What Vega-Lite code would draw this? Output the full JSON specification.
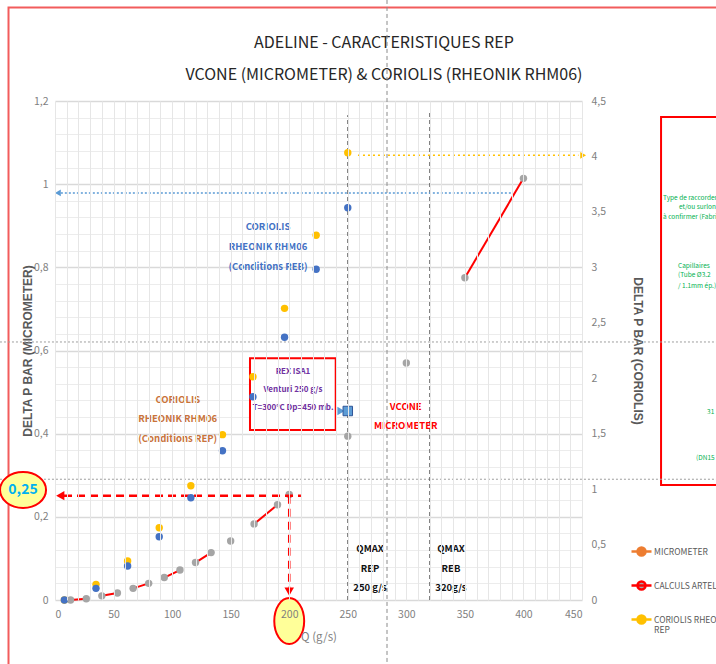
{
  "$schema": "https://vega.github.io/schema/vega-lite/v6.json",
  "width": 527,
  "height": 499,
  "autosize": {"type": "none"},
  "padding": {"left": 55, "top": 101, "right": 134, "bottom": 64},
  "background": "white",
  "config": {
    "view": {"stroke": null},
    "font": "Noto Sans CJK SC, Liberation Sans, sans-serif",
    "axis": {"labelFont": "Noto Sans CJK SC, Liberation Sans, sans-serif", "labelColor": "#7f7f7f", "labelFontSize": 10.5, "tickSize": 0, "domain": false, "titleFont": "Liberation Sans", "titleColor": "#595959"}
  },
  "encoding": {
    "x": {
      "field": "q", "type": "quantitative",
      "scale": {"domain": [0, 450], "nice": false, "zero": false},
      "axis": {
        "title": "Q (g/s)",
        "titleFont": "Noto Sans CJK SC, Liberation Sans, sans-serif",
        "titleFontWeight": "normal",
        "titleFontSize": 11.5,
        "titleColor": "#7f7f7f",
        "titlePadding": 12,
        "labelPadding": 9,
        "values": [0,10,20,30,40,50,60,70,80,90,100,110,120,130,140,150,160,170,180,190,200,210,220,230,240,250,260,270,280,290,300,310,320,330,340,350,360,370,380,390,400,410,420,430,440,450],
        "labelExpr": "datum.value % 50 === 0 ? datum.label : ''",
        "gridColor": "#e6e6e6",
        "zindex": 1
      }
    }
  },
  "layer": [
    {
      "encoding": {
        "y": {
          "field": "v", "type": "quantitative",
          "scale": {"domain": [0, 1.2], "nice": false, "zero": false},
          "axis": {
            "title": "DELTA P BAR (MICROMETER)",
            "titleFontSize": 12,
            "titleFontWeight": "bold",
            "titlePadding": -1,
            "labelPadding": 7,
            "values": [0,0.04,0.08,0.12,0.16,0.2,0.24,0.28,0.32,0.36,0.4,0.44,0.48,0.52,0.56,0.6,0.64,0.68,0.72,0.76,0.8,0.84,0.88,0.92,0.96,1,1.04,1.08,1.12,1.16,1.2],
            "labelExpr": "abs(datum.value*5-round(datum.value*5))<0.001 ? replace(format(datum.value,'.1~f'),'.',',') : ''",
            "gridColor": {"condition": {"test": "abs(datum.value*5-round(datum.value*5))<0.001", "value": "#d9d9d9"}, "value": "#ececec"},
            "gridWidth": {"condition": {"test": "abs(datum.value*5-round(datum.value*5))<0.001", "value": 1.5}, "value": 1}
          }
        }
      },
      "layer": [
        {
          "data": {"values": [{"q": -39.7, "q2": 600, "v": -0.5, "v2": 1.4249}]},
          "mark": {"type": "rect", "fill": null, "stroke": "#f25c5c", "strokeWidth": 2},
          "encoding": {"x2": {"field": "q2"}, "y2": {"field": "v2"}}
        },
        {
          "data": {"values": [
            {"q": 280.9, "v": 1.3395, "t": "ADELINE - CARACTERISTIQUES REP"},
            {"q": 280.9, "v": 1.2625, "t": "VCONE (MICROMETER) & CORIOLIS (RHEONIK RHM06)"}
          ]},
          "mark": {"type": "text", "align": "center", "baseline": "middle", "fontSize": 16, "color": "#262626"},
          "encoding": {"text": {"field": "t"}}
        },
        {
          "data": {"values": [{"q": 517.5, "q2": 600, "v": 0.2766, "v2": 1.1616}]},
          "mark": {"type": "rect", "fill": null, "stroke": "#ff0000", "strokeWidth": 2},
          "encoding": {"x2": {"field": "q2"}, "y2": {"field": "v2"}}
        },
        {
          "data": {"values": [
            {"q": 519.2, "v": 0.9668, "t": "Type de raccordement"},
            {"q": 532.8, "v": 0.9451, "t": "et/ou surlongueur"},
            {"q": 519.2, "v": 0.9211, "t": "à confirmer (Fabricant)"},
            {"q": 532, "v": 0.8032, "t": "Capillaires"},
            {"q": 532, "v": 0.7816, "t": "(Tube Ø3.2"},
            {"q": 532, "v": 0.7551, "t": "/ 1.1mm ép.)"},
            {"q": 556.8, "v": 0.4521, "t": "31"},
            {"q": 547.4, "v": 0.3415, "t": "(DN15 S"}
          ]},
          "mark": {"type": "text", "align": "left", "baseline": "middle", "fontSize": 6.5, "color": "#00b050"},
          "encoding": {"text": {"field": "t"}}
        },
        {
          "data": {"values": [{"q": -47, "q2": 565, "v": 0.6205}, {"q": -47, "q2": 565, "v": 0.2904}]},
          "mark": {"type": "rule", "color": "#9e9e9e", "strokeWidth": 1, "strokeDash": [2, 2]},
          "encoding": {"x2": {"field": "q2"}}
        },
        {
          "data": {"values": [{"q": 283.5, "v": 1.443, "v2": -0.154}]},
          "mark": {"type": "rule", "color": "#8a8a8a", "strokeWidth": 1, "strokeDash": [4, 3]},
          "encoding": {"y2": {"field": "v2"}}
        },
        {
          "data": {"values": [{"q": 250, "v": 0, "v2": 1.166}, {"q": 320, "v": 0, "v2": 1.178}]},
          "mark": {"type": "rule", "color": "#595959", "strokeWidth": 1, "strokeDash": [4, 3]},
          "encoding": {"y2": {"field": "v2"}}
        },
        {
          "data": {"values": [{"q": 5, "q2": 390, "v": 0.979}]},
          "mark": {"type": "rule", "color": "#5b9bd5", "strokeWidth": 1.5, "strokeDash": [2, 2]},
          "encoding": {"x2": {"field": "q2"}}
        },
        {
          "data": {"values": [{"q": 2.5, "v": 0.979}]},
          "mark": {"type": "point", "shape": "triangle-left", "filled": true, "color": "#5b9bd5", "size": 45, "opacity": 1},
          "encoding": {}
        },
        {
          "data": {"name": "calc"},
          "mark": {"type": "line", "strokeWidth": 2},
          "encoding": {
            "detail": {"field": "seg"},
            "stroke": {
              "field": "series", "type": "nominal",
              "scale": {"domain": ["MICROMETER", "CALCULS ARTELIA", "CORIOLIS RHEONIK RHM06 REP"], "range": ["#ed7d31", "#ff0000", "#ffc000"]},
              "legend": {
                "title": null, "orient": "none", "legendX": 575, "legendY": 439,
                "symbolType": "M-1,0H1M0.4,0A0.4,0.4,0,1,1,-0.4,0A0.4,0.4,0,1,1,0.4,0Z",
                "symbolSize": 400, "symbolStrokeWidth": 2.5,
                "labelFontSize": 8.5, "labelColor": "#595959",
                "labelLimit": 400, "labelOffset": 1, "rowPadding": 13,
                "labelExpr": "datum.label == 'CORIOLIS RHEONIK RHM06 REP' ? ['CORIOLIS RHEONIK RHM06', 'REP'] : datum.label"
              }
            }
          }
        },
        {
          "data": {"name": "calc"},
          "mark": {"type": "point", "filled": true, "size": 55, "opacity": 1, "strokeWidth": 0},
          "encoding": {
            "fill": {
              "field": "series", "type": "nominal",
              "scale": {"domain": ["MICROMETER", "CALCULS ARTELIA", "CORIOLIS RHEONIK RHM06 REP"], "range": ["#ed7d31", "#a5a5a5", "#ffc000"]},
              "legend": {
                "title": null, "orient": "none", "legendX": 575, "legendY": 439,
                "symbolType": "M-1,0H1M0.4,0A0.4,0.4,0,1,1,-0.4,0A0.4,0.4,0,1,1,0.4,0Z",
                "symbolSize": 400, "symbolStrokeWidth": 2.5,
                "labelFontSize": 8.5, "labelColor": "#595959",
                "labelLimit": 400, "labelOffset": 1, "rowPadding": 13,
                "labelExpr": "datum.label == 'CORIOLIS RHEONIK RHM06 REP' ? ['CORIOLIS RHEONIK RHM06', 'REP'] : datum.label"
              }
            }
          }
        },
        {
          "data": {"values": [{"q": 166.5, "q2": 239.7, "v": 0.4089, "v2": 0.5813}]},
          "mark": {"type": "rect", "fill": "white", "stroke": "#ff0000", "strokeWidth": 2},
          "encoding": {"x2": {"field": "q2"}, "y2": {"field": "v2"}}
        },
        {
          "data": {"values": [
            {"q": 203.2, "v": 0.5476, "t": "REX ISA1"},
            {"q": 203.2, "v": 0.505, "t": "Venturi 250 g/s"},
            {"q": 203.2, "v": 0.4617, "t": "T=300°C  Dp=450 mb."}
          ]},
          "mark": {"type": "text", "align": "center", "baseline": "middle", "fontSize": 8, "fontWeight": "bold", "color": "#7030a0"},
          "encoding": {"text": {"field": "t"}}
        },
        {
          "data": {"values": [
            {"q": 104.8, "v": 0.481, "t": "CORIOLIS"},
            {"q": 104.8, "v": 0.4346, "t": "RHEONIK RHM06"},
            {"q": 104.8, "v": 0.3872, "t": "(Conditions REP)"}
          ]},
          "mark": {"type": "text", "align": "center", "baseline": "middle", "fontSize": 9.5, "fontWeight": "bold", "color": "#c9733a"},
          "encoding": {"text": {"field": "t"}}
        },
        {
          "data": {"values": [
            {"q": 181.9, "v": 0.8977, "t": "CORIOLIS"},
            {"q": 181.9, "v": 0.8482, "t": "RHEONIK RHM06"},
            {"q": 181.9, "v": 0.8001, "t": "(Conditions REB)"}
          ]},
          "mark": {"type": "text", "align": "center", "baseline": "middle", "fontSize": 9.5, "fontWeight": "bold", "color": "#4472c4"},
          "encoding": {"text": {"field": "t"}}
        },
        {
          "data": {"values": [
            {"q": 299.5, "v": 0.4649, "t": "VCONE"},
            {"q": 299.5, "v": 0.4184, "t": "MICROMETER"}
          ]},
          "mark": {"type": "text", "align": "center", "baseline": "middle", "fontSize": 9.5, "fontWeight": "bold", "color": "#ff0000"},
          "encoding": {"text": {"field": "t"}}
        },
        {
          "data": {"values": [
            {"q": 269, "v": 0.1219, "t": "QMAX"},
            {"q": 269, "v": 0.0738, "t": "REP"},
            {"q": 269, "v": 0.0281, "t": "250 g/s"},
            {"q": 338.1, "v": 0.1219, "t": "QMAX"},
            {"q": 338.1, "v": 0.0738, "t": "REB"},
            {"q": 338.1, "v": 0.0281, "t": "320g/s"}
          ]},
          "mark": {"type": "text", "align": "center", "baseline": "middle", "fontSize": 9.5, "fontWeight": "bold", "color": "#111111"},
          "encoding": {"text": {"field": "t"}}
        },
        {
          "data": {"values": [{"q": 7.7, "q2": 210, "v": 0.251}]},
          "mark": {"type": "rule", "color": "#ff0000", "strokeWidth": 2.5, "strokeDash": [8, 5]},
          "encoding": {"x2": {"field": "q2"}}
        },
        {
          "data": {"values": [{"q": 200, "v": 0.251, "v2": 0.03}]},
          "mark": {"type": "rule", "color": "#ff0000", "strokeWidth": 2.5, "strokeDash": [8, 5]},
          "encoding": {"y2": {"field": "v2"}}
        },
        {
          "data": {"values": [{"q": 4.5, "v": 0.251}]},
          "mark": {"type": "point", "shape": "triangle-left", "filled": true, "color": "#ff0000", "size": 90, "opacity": 1},
          "encoding": {}
        },
        {
          "data": {"values": [{"q": 200, "v": 0.02}]},
          "mark": {"type": "point", "shape": "triangle-down", "filled": true, "color": "#ff0000", "size": 90, "opacity": 1},
          "encoding": {}
        },
        {
          "data": {"values": [{"q": 244.2, "v": 0.4545}]},
          "mark": {"type": "point", "shape": "triangle-right", "filled": true, "color": "#5b9bd5", "size": 70, "opacity": 1},
          "encoding": {}
        },
        {
          "data": {"values": [{"q": 250, "v": 0.4545}]},
          "mark": {"type": "point", "shape": "square", "filled": true, "fill": "#5b9bd5", "stroke": "#2f5597", "strokeWidth": 1, "size": 90, "opacity": 1},
          "encoding": {}
        },
        {
          "data": {"values": [{"q": -27.3, "v": 0.2645}]},
          "mark": {"type": "point", "shape": "M-1,0A1,0.78,0,1,0,1,0A1,0.78,0,1,0,-1,0Z", "filled": true, "fill": "#ffff99", "stroke": "#ff0000", "strokeWidth": 2, "size": 2116, "opacity": 1},
          "encoding": {}
        },
        {
          "data": {"values": [{"q": 200, "v": -0.0505}]},
          "mark": {"type": "point", "shape": "M-0.65,0A0.65,1,0,1,0,0.65,0A0.65,1,0,1,0,-0.65,0Z", "filled": true, "fill": "#ffff99", "stroke": "#ff0000", "strokeWidth": 2, "size": 2116, "opacity": 1},
          "encoding": {}
        },
        {
          "data": {"values": [{"q": -27.3, "v": 0.2645, "t": "0,25"}]},
          "mark": {"type": "text", "align": "center", "baseline": "middle", "fontSize": 14, "fontWeight": "bold", "color": "#00b0f0"},
          "encoding": {"text": {"field": "t"}}
        }
      ]
    },
    {
      "encoding": {
        "y": {
          "field": "v", "type": "quantitative",
          "scale": {"domain": [0, 4.5], "nice": false, "zero": false},
          "axis": {
            "orient": "right",
            "title": "DELTA P BAR (CORIOLIS)",
            "titleFontSize": 12,
            "titleFontWeight": "bold",
            "titlePadding": 25,
            "labelPadding": 9,
            "grid": false,
            "values": [0, 0.5, 1, 1.5, 2, 2.5, 3, 3.5, 4, 4.5],
            "labelExpr": "replace(format(datum.value,'.1~f'),'.',',')"
          }
        }
      },
      "layer": [
        {
          "data": {"values": [{"q": 258.7, "q2": 447, "v": 4.01}]},
          "mark": {"type": "rule", "color": "#ffc000", "strokeWidth": 1.5, "strokeDash": [2, 3]},
          "encoding": {"x2": {"field": "q2"}}
        },
        {
          "data": {"values": [{"q": 451, "v": 4.01}]},
          "mark": {"type": "point", "shape": "triangle-right", "filled": true, "color": "#ffc000", "size": 45, "opacity": 1},
          "encoding": {}
        },
        {
          "data": {"name": "rep"},
          "mark": {"type": "point", "filled": true, "size": 55, "opacity": 1, "strokeWidth": 0},
          "encoding": {
            "fill": {"field": "series", "type": "nominal"}
          }
        },
        {
          "data": {"name": "reb"},
          "mark": {"type": "point", "filled": true, "size": 55, "opacity": 1, "color": "#4472c4"},
          "encoding": {}
        }
      ]
    }
  ],
  "resolve": {"scale": {"y": "independent"}},
  "datasets": {
    "calc": [
      {"series": "CALCULS ARTELIA", "q": 13.3, "v": 0, "seg": 1},
      {"series": "CALCULS ARTELIA", "q": 26.7, "v": 0.003, "seg": 1},
      {"series": "CALCULS ARTELIA", "q": 40, "v": 0.01, "seg": 2},
      {"series": "CALCULS ARTELIA", "q": 53.3, "v": 0.017, "seg": 2},
      {"series": "CALCULS ARTELIA", "q": 66.7, "v": 0.028, "seg": 3},
      {"series": "CALCULS ARTELIA", "q": 80, "v": 0.04, "seg": 3},
      {"series": "CALCULS ARTELIA", "q": 93.3, "v": 0.054, "seg": 4},
      {"series": "CALCULS ARTELIA", "q": 106.7, "v": 0.072, "seg": 4},
      {"series": "CALCULS ARTELIA", "q": 120, "v": 0.09, "seg": 5},
      {"series": "CALCULS ARTELIA", "q": 133.3, "v": 0.114, "seg": 5},
      {"series": "CALCULS ARTELIA", "q": 150, "v": 0.142, "seg": 6},
      {"series": "CALCULS ARTELIA", "q": 170, "v": 0.183, "seg": 7},
      {"series": "CALCULS ARTELIA", "q": 190, "v": 0.229, "seg": 7},
      {"series": "CALCULS ARTELIA", "q": 200, "v": 0.254, "seg": 8},
      {"series": "CALCULS ARTELIA", "q": 250, "v": 0.394, "seg": 9},
      {"series": "CALCULS ARTELIA", "q": 300, "v": 0.57, "seg": 10},
      {"series": "CALCULS ARTELIA", "q": 350, "v": 0.775, "seg": 11},
      {"series": "CALCULS ARTELIA", "q": 400, "v": 1.014, "seg": 11}
    ],
    "rep": [
      {"series": "CORIOLIS RHEONIK RHM06 REP", "q": 8, "v": 0},
      {"series": "CORIOLIS RHEONIK RHM06 REP", "q": 35, "v": 0.141},
      {"series": "CORIOLIS RHEONIK RHM06 REP", "q": 62, "v": 0.352},
      {"series": "CORIOLIS RHEONIK RHM06 REP", "q": 89, "v": 0.652},
      {"series": "CORIOLIS RHEONIK RHM06 REP", "q": 116, "v": 1.031},
      {"series": "CORIOLIS RHEONIK RHM06 REP", "q": 143, "v": 1.491},
      {"series": "CORIOLIS RHEONIK RHM06 REP", "q": 169, "v": 2.014},
      {"series": "CORIOLIS RHEONIK RHM06 REP", "q": 196, "v": 2.63},
      {"series": "CORIOLIS RHEONIK RHM06 REP", "q": 223, "v": 3.289},
      {"series": "CORIOLIS RHEONIK RHM06 REP", "q": 250, "v": 4.034}
    ],
    "reb": [
      {"series": "CORIOLIS RHEONIK RHM06 REB", "q": 8, "v": 0},
      {"series": "CORIOLIS RHEONIK RHM06 REB", "q": 35, "v": 0.105},
      {"series": "CORIOLIS RHEONIK RHM06 REB", "q": 62, "v": 0.307},
      {"series": "CORIOLIS RHEONIK RHM06 REB", "q": 89, "v": 0.571},
      {"series": "CORIOLIS RHEONIK RHM06 REB", "q": 116, "v": 0.922},
      {"series": "CORIOLIS RHEONIK RHM06 REB", "q": 143, "v": 1.346},
      {"series": "CORIOLIS RHEONIK RHM06 REB", "q": 169, "v": 1.833},
      {"series": "CORIOLIS RHEONIK RHM06 REB", "q": 196, "v": 2.369},
      {"series": "CORIOLIS RHEONIK RHM06 REB", "q": 223, "v": 2.982},
      {"series": "CORIOLIS RHEONIK RHM06 REB", "q": 250, "v": 3.537}
    ]
  }
}
